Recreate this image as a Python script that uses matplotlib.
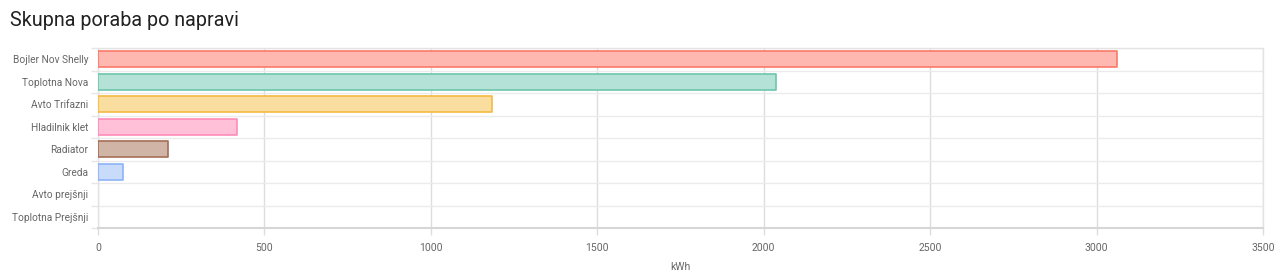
import matplotlib
matplotlib.use("Agg")
import matplotlib.pyplot as plt
import numpy as np

# data
devices = ["Bojler Nov Shelly", "Toplotna Nova", "Avto Trifazni", "Hladilnik klet",
           "Radiator", "Greda", "Avto prejšnji", "Toplotna Prejšnji"]
kwh = [3061, 2037, 1184, 418, 210, 75, 0, 0]
fills = ["#ffb8af", "#b4e2d6", "#fadea0", "#ffc0d8", "#d0b5a6", "#c8dbfa", "#c8dbfa", "#c8dbfa"]
edges = ["#f87a6a", "#6cc6ab", "#f5b942", "#ff8cb9", "#a56e55", "#8cb4f5", "#8cb4f5", "#8cb4f5"]
xticks = [0, 500, 1000, 1500, 2000, 2500, 3000, 3500]

plt.rcParams['font.family'] = ['Roboto', 'DejaVu Sans']

fig = plt.figure(figsize=(12.8, 2.71), dpi=100)
ax = fig.add_axes([98/1280, 43/271, 1165/1280, 180/271])

y = np.arange(len(devices))
bars = ax.barh(y, kwh, height=0.72, color=fills, edgecolor=edges, linewidth=1.2, zorder=3)
for b, v in zip(bars, kwh):
    b.set_joinstyle('round')
    if v == 0:
        b.set_visible(False)

ax.set_xlim(0, 3500)
ax.set_ylim(len(devices) - 0.5, -0.5)
ax.set_xticks(xticks)
ax.set_xticklabels([str(t) for t in xticks])
ax.set_yticks(y)
ax.set_yticklabels(devices)
ax.set_yticks(np.arange(len(devices) + 1) - 0.5, minor=True)

ax.tick_params(axis='y', which='major', length=0, pad=7, labelsize=7.3, labelcolor='#666666')
ax.tick_params(axis='y', which='minor', length=5, color='#e6e6e6', width=1)
ax.tick_params(axis='x', length=5, color='#dddddd', width=1, pad=6, labelsize=7.5, labelcolor='#666666')

ax.grid(axis='x', which='major', color='#dddddd', linewidth=1, zorder=0)
ax.grid(axis='y', which='minor', color='#ebebeb', linewidth=1, zorder=0)
ax.grid(axis='y', which='major', visible=False)

for s in ['top', 'right', 'left']:
    ax.spines[s].set_color('#e3e3e3')
    ax.spines[s].set_linewidth(1)
ax.spines['bottom'].set_color('#d6d6d6')
ax.spines['bottom'].set_linewidth(1.5)

ax.set_xlabel("kWh", fontsize=7.5, color='#666666', labelpad=6)

fig.text(10/1280, 1 - 20/271, "Skupna poraba po napravi", fontsize=14.2, color='#212121',
         ha='left', va='center')

fig.savefig("out.png", dpi=100, facecolor='white')
